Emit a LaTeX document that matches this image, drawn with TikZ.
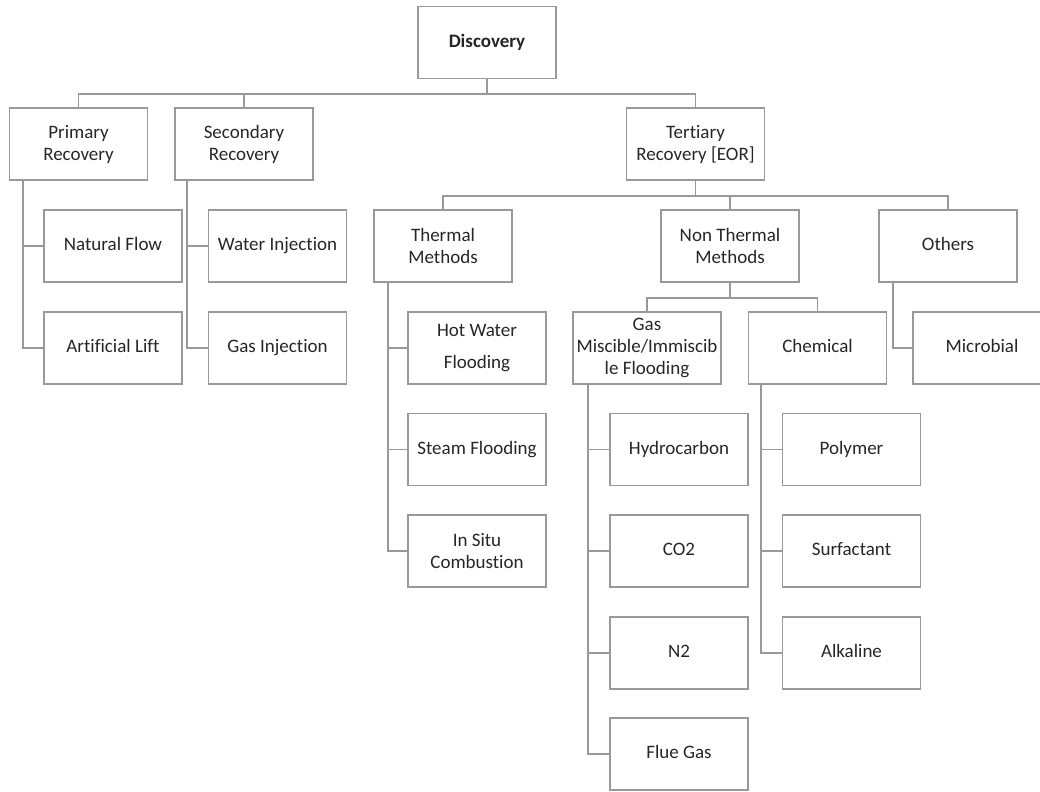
\documentclass[tikz,border=0pt]{standalone}
\usepackage{fontspec}
\setmainfont[Ligatures=NoCommon]{Carlito}
\usepackage{tikz}
\usetikzlibrary{positioning}
\definecolor{eLine}{HTML}{999999}
\definecolor{eText}{HTML}{262626}
\tikzset{bx/.style={rectangle, draw=eLine, line width=1.4pt, text=eText,
  align=center, inner sep=0pt, minimum width=103.5pt, minimum height=54pt,
  font=\fontsize{14.25}{16.5}\selectfont}}
\tikzset{one/.style={text height=10pt, text depth=3pt}}
\tikzset{ln/.style={draw, eLine, line width=1.4pt}}

\begin{document}
\begin{tikzpicture}[x=0.75pt, y=-0.75pt]
            \useasboundingbox (0,0) rectangle (1040,792);
            \clip (0,0) rectangle (1040,792);
            %%
            \node (disc) at (487,42.5) [bx, one] {\textbf{Discovery}};
            \node (prim) at (78.5,144) [bx] {Primary\\Recovery};
            \node (sec) at (244,144) [bx] {Secondary\\Recovery};
            \node (tert) at (695.5,144) [bx] {Tertiary\\Recovery [EOR]};
            %%
            \node (natfl) at (113,246) [bx, one] {Natural Flow};
            \node (artl) at (113,348) [bx, one] {Artificial Lift};
            \node (watinj) at (277.5,246) [bx, one] {Water Injection};
            \node (gasinj) at (277.5,348) [bx, one] {Gas Injection};
            %%
            \node (therm) at (443,246) [bx] {Thermal\\Methods};
            \node (nonth) at (730,246) [bx] {Non Thermal\\Methods};
            \node (oth) at (948,246) [bx, one] {Others};
            %%
            \node (hotw) at (477,348) [bx] {Hot Water\\[7.5pt]Flooding};
            \node (steam) at (477,449.5) [bx, one] {Steam Flooding};
            \node (insitu) at (477,551) [bx] {In Situ\\Combustion};
            %%
            \node (gasm) at (647,348) [bx, minimum width=111pt] {Gas\\Miscible/Immiscib\\le Flooding};
            \node (chem) at (817.5,348) [bx, one] {Chemical};
            \node (micro) at (982,348) [bx, one] {Microbial};
            %%
            \node (hydro) at (679,449.5) [bx, one] {Hydrocarbon};
            \node (co2) at (679,551) [bx, one] {CO2};
            \node (n2) at (679,653) [bx, one] {N2};
            \node (flue) at (679,754) [bx, one] {Flue Gas};
            %%
            \node (poly) at (851.5,449.5) [bx, one] {Polymer};
            \node (surf) at (851.5,551) [bx, one] {Surfactant};
            \node (alk) at (851.5,653) [bx, one] {Alkaline};
            %%
            \draw [ln] (disc.south) -- ++(0,15) -| (prim.north);
            \draw [ln] (disc.south) -- ++(0,15) -| (sec.north);
            \draw [ln] (disc.south) -- ++(0,15) -| (tert.north);
            %%
            \draw [ln] (tert.south) -- ++(0,15) -| (therm.north);
            \draw [ln] (tert.south) -- ++(0,15) -| (nonth.north);
            \draw [ln] (tert.south) -- ++(0,15) -| (oth.north);
            %%
            \draw [ln] (nonth.south) -- ++(0,15) -| (gasm.north);
            \draw [ln] (nonth.south) -- ++(0,15) -| (chem.north);
            %%
            \draw [ln] (prim.south west) ++(14,0) |- (natfl.west);
            \draw [ln] (prim.south west) ++(14,0) |- (artl.west);
            \draw [ln] (sec.south west) ++(13,0) |- (watinj.west);
            \draw [ln] (sec.south west) ++(13,0) |- (gasinj.west);
            %%
            \draw [ln] (therm.south west) ++(15,0) |- (hotw.west);
            \draw [ln] (therm.south west) ++(15,0) |- (steam.west);
            \draw [ln] (therm.south west) ++(15,0) |- (insitu.west);
            %%
            \draw [ln] (gasm.south west) ++(16,0) |- (hydro.west);
            \draw [ln] (gasm.south west) ++(16,0) |- (co2.west);
            \draw [ln] (gasm.south west) ++(16,0) |- (n2.west);
            \draw [ln] (gasm.south west) ++(16,0) |- (flue.west);
            %%
            \draw [ln] (chem.south west) ++(13,0) |- (poly.west);
            \draw [ln] (chem.south west) ++(13,0) |- (surf.west);
            \draw [ln] (chem.south west) ++(13,0) |- (alk.west);
            %%
            \draw [ln] (oth.south west) ++(15,0) |- (micro.west);
\end{tikzpicture}
\end{document}
